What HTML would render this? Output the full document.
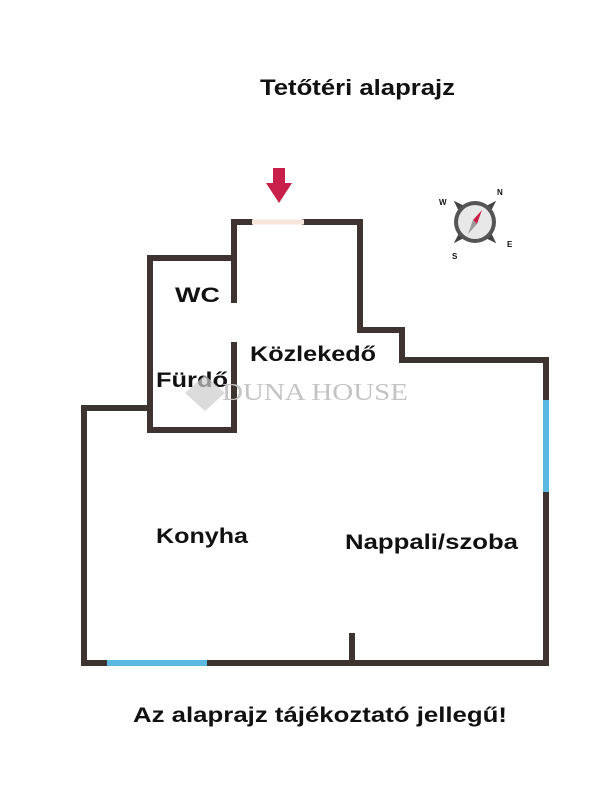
<!DOCTYPE html>
<html><head><style>
body{margin:0;background:#fff;}
svg{display:block}
text{font-family:"Liberation Sans",sans-serif;font-weight:bold;fill:#111}
</style></head><body>
<svg width="600" height="786" viewBox="0 0 600 786">
<text x="260" y="95" font-size="22" textLength="195" lengthAdjust="spacingAndGlyphs">Tetőtéri alaprajz</text>
<polygon points="273,168 285,168 285,183 292,183 279,203 266,183 273,183" fill="#c8204a"/>
<g stroke="#3d3330" stroke-width="6" fill="none" stroke-linecap="square">
<polyline points="250,222 234,222 234,300"/>
<polyline points="305,222 360,222 360,330 402,330 402,360 546,360 546,663 84,663 84,408 150,408"/>
<polyline points="234,258 150,258 150,430 234,430 234,345"/>
<line x1="352" y1="636" x2="352" y2="663"/>
</g>
<line x1="252" y1="222" x2="304" y2="222" stroke="#f6e6dc" stroke-width="5"/>
<line x1="546" y1="400" x2="546" y2="492" stroke="#5bb8e0" stroke-width="6"/>
<line x1="107" y1="663" x2="207" y2="663" stroke="#5bb8e0" stroke-width="6"/>
<g transform="translate(475,222)">
<polygon points="0,-30 7,-8 30,0 7,8 0,30 -7,8 -30,0 -7,-8" fill="#444" transform="rotate(45)"/>
<circle r="21" fill="#555"/><circle r="17" fill="#e8e8e8"/>
<polygon points="7,-12 2,2 -2,-2" fill="#c8204a"/>
<polygon points="-7,12 -2,-2 2,2" fill="#999"/>
<text x="22" y="-27" font-size="8" fill="#999" font-weight="normal">N</text>
<text x="-36" y="-17" font-size="8" fill="#999" font-weight="normal">W</text>
<text x="32" y="25" font-size="8" fill="#999" font-weight="normal">E</text>
<text x="-23" y="37" font-size="8" fill="#999" font-weight="normal">S</text>
</g>
<text x="175" y="302" font-size="21" textLength="45" lengthAdjust="spacingAndGlyphs">WC</text>
<text x="250" y="361" font-size="21" textLength="126" lengthAdjust="spacingAndGlyphs">Közlekedő</text>
<text x="156" y="387" font-size="21" textLength="72" lengthAdjust="spacingAndGlyphs">Fürdő</text>
<text x="156" y="543" font-size="21" textLength="92" lengthAdjust="spacingAndGlyphs">Konyha</text>
<text x="345" y="549" font-size="21" textLength="173" lengthAdjust="spacingAndGlyphs">Nappali/szoba</text>
<text x="222" y="400" font-size="24" style="font-family:'Liberation Serif',serif;fill:#c4c4c4;font-weight:normal" textLength="186" lengthAdjust="spacingAndGlyphs">DUNA HOUSE</text>
<polygon points="205,375 225,393 205,411 185,393" fill="#ccc" opacity="0.7"/>
<text x="133" y="722" font-size="21" textLength="374" lengthAdjust="spacingAndGlyphs">Az alaprajz tájékoztató jellegű!</text>
</svg>
</body></html>
